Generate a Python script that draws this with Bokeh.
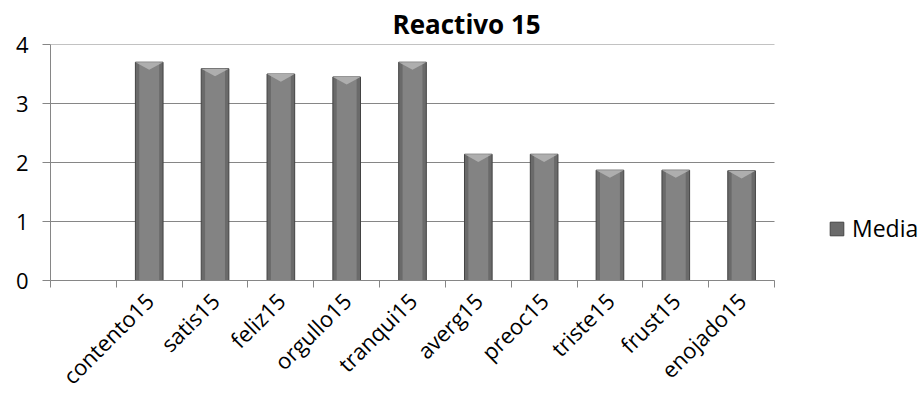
import math
from bokeh.plotting import figure
from bokeh.models import (Range1d, FixedTicker, LinearAxis, Legend, LegendItem,
                          ColumnDataSource, Title)
from bokeh.embed import file_html
from bokeh.resources import INLINE

# ---- data ----
title_text = "Reactivo 15"
series_name = "Media"
categories = ["contento15", "satis15", "feliz15", "orgullo15", "tranqui15",
              "averg15", "preoc15", "triste15", "frust15", "enojado15"]
values = [3.70, 3.59, 3.50, 3.45, 3.70, 2.14, 2.14, 1.87, 1.87, 1.86]
y_ticks = [0, 1, 2, 3, 4]
leading_empty_slots = 1  # the chart has one blank category before the first bar

FONT = "Open Sans"
GRID = "#868686"

n_slots = len(categories) + leading_empty_slots
centers = [i + leading_empty_slots + 0.5 for i in range(len(categories))]
bar_w = 0.42

# plotting area spans the legend too; axis/grid are limited to the slots
W, H = 924, 405
LEFT, RIGHT_EDGE_OF_SLOTS, TOP, BOTTOM = 50, 774, 43, 125
x_end = n_slots * (W - LEFT) / (RIGHT_EDGE_OF_SLOTS - LEFT)

p = figure(width=W, height=H, output_backend="svg", toolbar_location=None,
           x_range=Range1d(0, x_end), y_range=Range1d(0, max(y_ticks)),
           x_axis_type=None, y_axis_type=None,
           min_border_left=LEFT, min_border_right=0, min_border_top=TOP,
           min_border_bottom=BOTTOM)
p.outline_line_color = None
p.background_fill_color = "white"
p.border_fill_color = "white"
p.xgrid.grid_line_color = None
p.ygrid.grid_line_color = None

t = Title(text=title_text, align="left", offset=342, standoff=6,
          text_font=FONT, text_font_size="26px", text_font_style="bold",
          text_color="black")
p.add_layout(t, "above")

# horizontal gridlines only across the category slots
p.segment(x0=[0] * len(y_ticks), x1=[n_slots] * len(y_ticks), y0=y_ticks, y1=y_ticks,
          line_color=GRID, line_width=1.2)

# y axis
yaxis = LinearAxis(ticker=FixedTicker(ticks=y_ticks))
yaxis.axis_line_color = GRID
yaxis.major_tick_line_color = GRID
yaxis.major_tick_out = 8
yaxis.major_tick_in = 0
yaxis.minor_tick_line_color = None
yaxis.major_label_text_font = FONT
yaxis.major_label_text_font_size = "22px"
yaxis.major_label_text_color = "black"
yaxis.major_label_standoff = 14
p.add_layout(yaxis, "left")

# x axis: labels at centres, tick marks at slot boundaries (minor ticks)
xaxis = LinearAxis(ticker=FixedTicker(ticks=centers,
                                      minor_ticks=list(range(0, n_slots + 1))),
                   bounds=(0, n_slots))
xaxis.major_label_overrides = {c: name for c, name in zip(centers, categories)}
xaxis.axis_line_color = GRID
xaxis.major_tick_line_color = None
xaxis.minor_tick_line_color = GRID
xaxis.minor_tick_out = 7
xaxis.minor_tick_in = 0
xaxis.major_label_orientation = math.pi / 4
xaxis.major_label_text_font = FONT
xaxis.major_label_text_font_size = "22px"
xaxis.major_label_text_color = "black"
xaxis.major_label_standoff = 9
p.add_layout(xaxis, "below")

src = ColumnDataSource(dict(x=centers, top=values))
outer = p.vbar(x="x", top="top", width=bar_w, source=src,
               fill_color="#6a6a6a", line_color="#434343", line_width=1)
p.vbar(x="x", top="top", width=bar_w * 0.72, source=src,
       fill_color="#838383", line_color=None)
# top bevel
bevel = 0.13
xs = [[c - bar_w / 2, c + bar_w / 2, c] for c in centers]
ys = [[v, v, v - bevel] for v in values]
p.patches(xs=xs, ys=ys, fill_color="#b3b3b3", line_color=None, fill_alpha=0.9)

legend = Legend(items=[LegendItem(label=series_name, renderers=[outer])],
                location=(778, 36))
legend.border_line_color = None
legend.background_fill_alpha = 0
legend.padding = 0
legend.margin = 0
legend.glyph_width = 17
legend.glyph_height = 17
legend.label_standoff = 7
legend.label_text_font = FONT
legend.label_text_font_size = "23px"
legend.label_text_color = "black"
p.add_layout(legend, "center")

open("out.html", "w").write(file_html(p, INLINE))
